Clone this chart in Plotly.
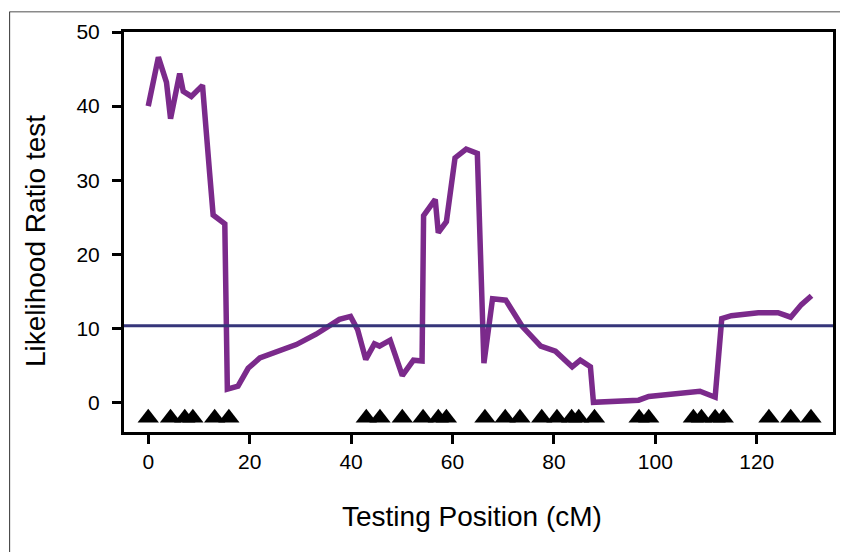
import plotly.graph_objects as go

# Likelihood ratio test statistic along the testing position (cM)
positions = [0, 2.0, 3.6, 4.4, 6.2, 6.9, 8.5, 10.7, 12.1, 12.8, 15.1, 15.6, 17.7, 19.7,
             22.0, 25.2, 29.2, 33.1, 37.7, 39.9, 41.3, 42.9, 44.6, 45.6, 47.7, 50.1,
             52.3, 54.0, 54.3, 56.6, 57.2, 58.8, 60.5, 62.7, 64.9, 66.2, 67.9, 70.5,
             73.7, 77.4, 80.3, 83.6, 85.2, 87.2, 87.8, 96.7, 98.7, 108.8, 111.8, 113.1,
             115.0, 120.3, 124.2, 126.7, 128.8, 130.8]
lr_values = [40.0, 46.6, 43.2, 38.3, 44.4, 42.0, 41.3, 42.8, 31.0, 25.3, 24.1, 1.8, 2.2, 4.6,
             6.0, 6.8, 7.8, 9.2, 11.2, 11.6, 9.8, 5.8, 7.9, 7.6, 8.4, 3.6,
             5.7, 5.6, 25.2, 27.4, 22.9, 24.4, 33.0, 34.2, 33.6, 5.3, 14.0, 13.8,
             10.3, 7.6, 6.9, 4.8, 5.7, 4.8, 0.0, 0.3, 0.8, 1.5, 0.7, 11.3,
             11.7, 12.1, 12.1, 11.5, 13.2, 14.4]

# Marker (triangle) positions in cM
marker_positions = [0, 4.4, 7.2, 8.8, 13.1, 15.9, 43.0, 45.7, 50.1, 54.2, 57.2, 58.8,
                    66.4, 70.4, 73.3, 77.6, 80.6, 83.5, 84.9, 88.0, 96.8, 98.7,
                    107.5, 109.1, 111.8, 113.4, 122.4, 126.7, 130.7]
marker_row = -2.1

threshold = 10.35

x_ticks = [0, 20, 40, 60, 80, 100, 120]
y_ticks = [0, 10, 20, 30, 40, 50]

FONT = "Liberation Sans, Arial, Helvetica, sans-serif"
PURPLE = "#7B2A8B"
NAVY = "#35357A"

fig = go.Figure()
fig.add_trace(go.Scatter(
    x=positions, y=lr_values, mode="lines",
    line=dict(color=PURPLE, width=5.5),
    hoverinfo="skip", showlegend=False,
))
fig.add_trace(go.Scatter(
    x=marker_positions, y=[marker_row] * len(marker_positions), mode="markers",
    marker=dict(symbol="triangle-up", size=18.5, color="black", line=dict(width=0)),
    hoverinfo="skip", showlegend=False,
))

fig.add_shape(type="line", xref="paper", yref="y", x0=0, x1=1, y0=threshold, y1=threshold,
              line=dict(color=NAVY, width=3), layer="above")

# outer figure border (top and left edges)
fig.add_shape(type="line", xref="paper", yref="paper", x0=-0.1613, x1=1.03, y0=1.0508, y1=1.0508,
              line=dict(color="#8a8a8a", width=1.5))
fig.add_shape(type="line", xref="paper", yref="paper", x0=-0.1613, x1=-0.1613, y0=1.0508, y1=-0.35,
              line=dict(color="#333333", width=1))

fig.add_annotation(text="Likelihood Ratio test", xref="paper", yref="paper",
                   x=-0.1248, y=0.476, xanchor="center", yanchor="middle",
                   textangle=-90, showarrow=False, font=dict(family=FONT, size=28, color="black"))
fig.add_annotation(text="Testing Position (cM)", xref="paper", yref="paper",
                   x=0.4913, y=-0.2125, xanchor="center", yanchor="middle",
                   showarrow=False, font=dict(family=FONT, size=28, color="black"))

fig.update_xaxes(range=[-4.78, 135.04], tickvals=x_ticks, ticktext=[str(v) for v in x_ticks],
                 showgrid=False, zeroline=False, showline=True, linecolor="black", linewidth=3,
                 mirror=True, ticks="outside", ticklen=9, tickwidth=2.5, tickcolor="black",
                 ticklabelstandoff=0,
                 tickfont=dict(family=FONT, size=21, color="black"))
fig.update_yaxes(range=[-4.0, 50.0], tickvals=y_ticks, ticktext=[str(v) for v in y_ticks],
                 showgrid=False, zeroline=False, showline=True, linecolor="black", linewidth=3,
                 mirror=True, ticks="outside", ticklen=9, tickwidth=2.5, tickcolor="black",
                 ticklabelstandoff=8,
                 tickfont=dict(family=FONT, size=21, color="black"))

# the page adds an 8px body margin, so the figure is 8px smaller than the window
fig.update_layout(
    width=840, height=544,
    margin=dict(l=116, r=13, t=24, b=120),
    paper_bgcolor="white", plot_bgcolor="white",
    showlegend=False,
)

fig.write_html("out.html")
